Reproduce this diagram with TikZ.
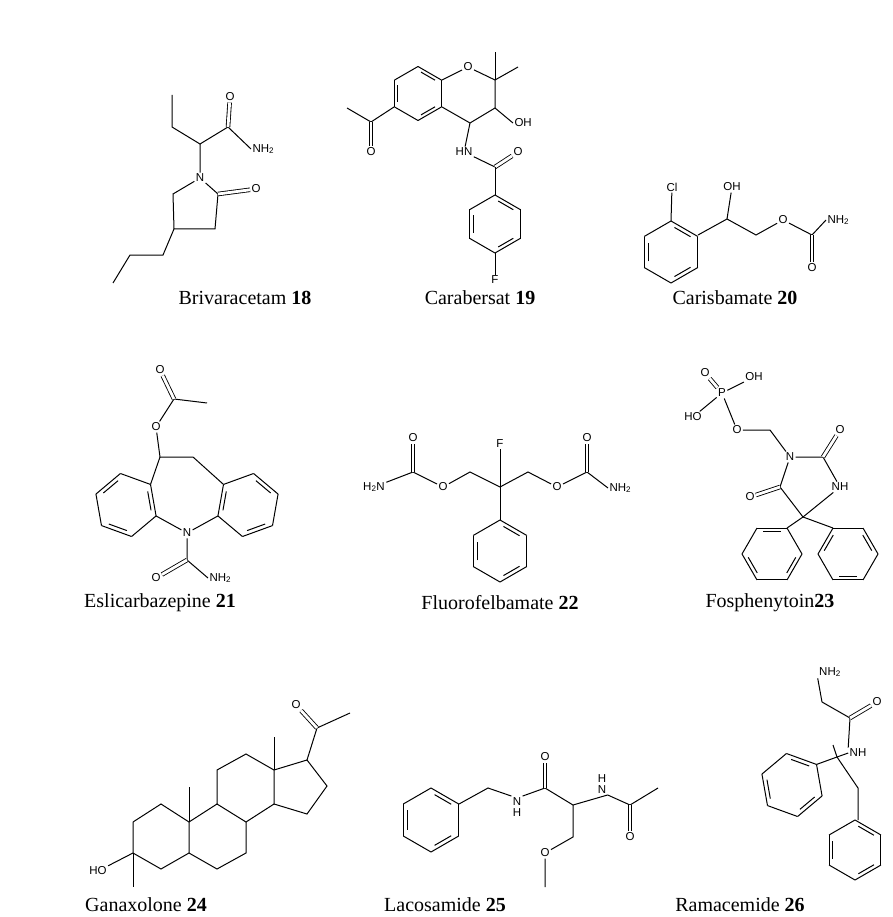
\documentclass[tikz,border=0pt]{standalone}
\usepackage{fontspec}
\setmainfont{Liberation Serif}
\setsansfont{Liberation Sans}
\usetikzlibrary{calc}
\newcommand\benz[4]{% cx cy r start
  \foreach \k in {0,...,5}{\draw ([shift={(#1,#2)}]#4+60*\k:#3) -- ([shift={(#1,#2)}]#4+60*\k+60:#3);}
  \foreach \k in {0,2,4}{\draw ([shift={(#1,#2)}]#4+60*\k+8:0.8*#3) -- ([shift={(#1,#2)}]#4+60*\k+52:0.8*#3);}}
\begin{document}
\begin{tikzpicture}[x=1pt,y=-1pt,line width=1pt,
  atom/.style={font=\sffamily\fontsize{11.5}{13}\selectfont,inner sep=1pt},
  captxt/.style={font=\fontsize{20}{23}\selectfont,inner sep=0pt},
  dbl/.style={double,double distance=2.8pt,line width=0.85pt}]
\useasboundingbox (0,0) rectangle (892,917);
% ---------- Brivaracetam
\coordinate (b1) at (172,95); \coordinate (b2) at (172,127); \coordinate (b3) at (200,144);
\coordinate (b4) at (228,127); \node[atom] (bo1) at (230,97) {O}; \node[atom,anchor=west] (bn2) at (251,149) {NH\textsubscript{2}};
\node[atom] (bn) at (200,178) {N}; \coordinate (b5) at (218,194); \node[atom] (bo2) at (256,189) {O};
\coordinate (b6) at (215,229); \coordinate (b7) at (174,229); \coordinate (b8) at (173,194);
\coordinate (b9) at (163,255); \coordinate (b10) at (130,255); \coordinate (b11) at (113,283);
\draw (b1)--(b2)--(b3)--(b4)--(bn2.west); \draw[dbl] (b4)--(bo1);
\draw (b3)--(bn)--(b5)--(b6)--(b7)--(b8)--(bn); \draw[dbl] (b5)--(bo2);
\draw (b7)--(b9)--(b10)--(b11);
\node[captxt] (c18) at (245,298) {Brivaracetam \textbf{18}};
% ---------- Carabersat
\benz{418}{93.5}{27}{30}
\node[atom] (co1) at (468,67) {O}; \coordinate (cr3) at (442,80); \coordinate (cr4) at (442,107);
\coordinate (c2) at (495,80); \coordinate (cm1) at (495,52); \coordinate (cm2) at (518,67);
\coordinate (c3) at (495,108); \node[atom,anchor=west] (coh) at (513,123) {OH};
\coordinate (c4) at (470,123); \node[atom] (chn) at (464,152) {HN};
\coordinate (c5) at (495,167); \node[atom] (co2) at (518,152) {O};
\coordinate (cr1) at (394,107); \coordinate (c6) at (371,122); \coordinate (cme) at (347,108);
\node[atom] (co3) at (371,152) {O};
\draw (cr3)--(co1)--(c2)--(c3)--(c4)--(cr4); \draw (c2)--(cm1); \draw (c2)--(cm2);
\draw (c3)--(coh.west); \draw (c4)--(chn); \draw (chn)--(c5); \draw[dbl] (c5)--(co2);
\draw (cr1)--(c6)--(cme); \draw[dbl] (c6)--(co3);
\benz{495}{224}{29}{30}
\coordinate (cr2t) at (495,195); \node[atom] (cf) at (495,280) {F};
\draw (c5)--(cr2t); \draw (495,253)--(cf);
\node[captxt] (c19) at (480,298) {Carabersat \textbf{19}};
% ---------- Carisbamate
\benz{671}{252}{31}{30}
\node[atom] (dcl) at (672,187) {Cl}; \coordinate (dr0) at (671,221); \coordinate (dr1) at (698,235);
\coordinate (d1) at (727,219); \node[atom] (doh) at (732,187) {OH}; \coordinate (d2) at (756,235);
\node[atom] (do1) at (783,220) {O}; \coordinate (d3) at (812,235); \node[atom] (do2) at (812,268) {O};
\node[atom,anchor=west] (dn) at (826,220) {NH\textsubscript{2}};
\draw (dr0)--(dcl); \draw (dr1)--(d1)--(d2)--(do1)--(d3)--(dn.west); \draw (d1)--(doh); \draw[dbl] (d3)--(do2);
\node[captxt] (c20) at (735,298) {Carisbamate \textbf{20}};
% ---------- Eslicarbazepine
\benz{126}{505}{32}{200}
\benz{248}{505}{32}{40}
\node[atom] (en) at (187,533) {N}; \coordinate (el4) at ($(126,505)+(320:32)$);
\coordinate (er1) at ($(248,505)+(220:32)$); \coordinate (er6) at ($(248,505)+(160:32)$);
\coordinate (el5) at ($(126,505)+(20:32)$);
\coordinate (e1) at (160,457); \coordinate (e2) at (193,457);
\node[atom] (eo1) at (156,427) {O}; \coordinate (e3) at (174,399); \node[atom] (eo2) at (160,370) {O}; \coordinate (em) at (207,403);
\coordinate (e4) at (187,560); \node[atom] (eo3) at (156,578) {O}; \node[atom,anchor=west] (en2) at (208,578) {NH\textsubscript{2}};
\draw (el4)--(e1)--(e2)--(er1); \draw (el5)--(en)--(er6); \draw (e1)--(eo1)--(e3)--(em); \draw[dbl] (e3)--(eo2);
\draw (en)--(e4)--(en2.west); \draw[dbl] (e4)--(eo3);
\node[captxt] (c21) at (160,603) {Eslicarbazepine \textbf{21}};
% ---------- Fluorofelbamate
\node[atom] (fn1) at (374,487) {H\textsubscript{2}N}; \coordinate (f1) at (413,472); \node[atom] (fo1) at (413,438) {O};
\node[atom] (fo2) at (443,487) {O}; \coordinate (f2) at (470,472); \coordinate (f3) at (500,487); \node[atom] (ff) at (500,444) {F};
\coordinate (f4) at (528,472); \node[atom] (fo3) at (557,487) {O}; \coordinate (f5) at (587,472); \node[atom] (fo4) at (587,438) {O};
\node[atom,anchor=west] (fn2) at (608,488) {NH\textsubscript{2}};
\draw (fn1)--(f1)--(fo2)--(f2)--(f3)--(f4)--(fo3)--(f5)--(fn2.west); \draw[dbl] (f1)--(fo1); \draw[dbl] (f5)--(fo4);
\draw (f3)--(ff); \coordinate (fr) at (500,520); \draw (f3)--(fr);
\benz{500}{551}{31}{270}
\node[captxt] (c22) at (500,603) {Fluorofelbamate \textbf{22}};
% ---------- Fosphenytoin
\node[atom] (gp) at (722,393) {P}; \node[atom] (go1) at (705,373) {O}; \node[atom] (goh) at (754,377) {OH};
\node[atom] (gho) at (693,417) {HO}; \node[atom] (go2) at (737,430) {O}; \coordinate (g1) at (770,430);
\node[atom] (gn) at (790,457) {N}; \coordinate (g2) at (823,457); \node[atom] (go3) at (840,430) {O};
\node[atom] (gnh) at (840,487) {NH}; \coordinate (g5) at (803,517); \coordinate (g4) at (780,487); \node[atom] (go4) at (750,497) {O};
\draw[dbl] (gp)--(go1); \draw (gp)--(goh); \draw (gp)--(gho); \draw (gp)--(go2)--(g1)--(gn)--(g2)--(gnh)--(g5)--(g4)--(gn);
\draw[dbl] (g2)--(go3); \draw[dbl] (g4)--(go4);
\benz{772}{554}{30}{0}
\benz{848}{554}{30}{60}
\draw (g5)--($(772,554)+(300:30)$); \draw (g5)--($(848,554)+(240:30)$);
\node[captxt] (c23) at (770,603) {Fosphenytoin\textbf{23}};
% ---------- Ganaxolone
\coordinate (h1) at (133,822); \coordinate (h2) at (161,804); \coordinate (h10) at (189,822); \coordinate (h5) at (189,853);
\coordinate (h4) at (161,869); \coordinate (h3) at (133,853); \node[atom] (hoh) at (98,871) {HO}; \coordinate (hm3) at (133,887);
\coordinate (h9) at (217,804); \coordinate (h8) at (246,822); \coordinate (h7) at (246,853); \coordinate (h6) at (217,869);
\coordinate (hm10) at (189,787); \coordinate (h11) at (217,770); \coordinate (h12) at (246,754); \coordinate (h13) at (274,770);
\coordinate (h14) at (274,804); \coordinate (hm13) at (274,737); \coordinate (h17) at (307,760); \coordinate (h16) at (327,786);
\coordinate (h15) at (307,814); \coordinate (h20) at (317,728); \node[atom] (ho) at (296,705) {O}; \coordinate (h21) at (350,713);
\draw (h1)--(h2)--(h10)--(h5)--(h4)--(h3)--(h1); \draw (h3)--(hoh); \draw (h3)--(hm3);
\draw (h10)--(h9)--(h8)--(h7)--(h6)--(h5); \draw (h10)--(hm10);
\draw (h9)--(h11)--(h12)--(h13)--(h14)--(h8); \draw (h13)--(hm13);
\draw (h13)--(h17)--(h16)--(h15)--(h14); \draw (h17)--(h20)--(h21); \draw[dbl] (h20)--(ho);
\node[captxt] (c24) at (146,905) {Ganaxolone \textbf{24}};
% ---------- Lacosamide
\benz{431}{820}{32}{270}
\coordinate (l0) at (459,804); \coordinate (l1) at (488,788); \node[atom,align=center] (ln1) at (517,807) {N\\[-2pt]H};
\coordinate (l2) at (545,788); \node[atom] (lo1) at (545,757) {O}; \coordinate (l3) at (573,805);
\node[atom,align=center] (ln2) at (602,784) {H\\[-2pt]N}; \coordinate (l4) at (630,805); \node[atom] (lo2) at (630,837) {O}; \coordinate (l5) at (658,788);
\coordinate (l6) at (573,837); \node[atom] (lo3) at (545,853) {O}; \coordinate (l7) at (545,887);
\draw (l0)--(l1)--(ln1.north west); \draw (ln1.north east)--(l2)--(l3)--(ln2.south east); \draw (ln2.south east)--(l4)--(l5);
\draw[dbl] (l2)--(lo1); \draw[dbl] (l4)--(lo2); \draw (l3)--(l6)--(lo3)--(l7);
\node[captxt] (c25) at (445,905) {Lacosamide \textbf{25}};
% ---------- Ramacemide
\node[atom] (rn2) at (830,672) {NH\textsubscript{2}}; \coordinate (r1) at (822,702); \coordinate (r2) at (850,718);
\node[atom] (ro) at (877,702) {O}; \node[atom] (rnh) at (858,753) {NH}; \coordinate (r3) at (837,757); \coordinate (rm) at (833,745);
\coordinate (r4) at (858,788);
\draw (rn2.south west)--(r1)--(r2)--(rnh.north west); \draw[dbl] (r2)--(ro); \draw (rnh.west)--(r3);
\draw (rm)--(r3)--(r4)--(858,820); \draw (r3)--($(792,785)+(320:32)$);
\benz{792}{785}{32}{20}
\benz{855}{850}{30}{270}
\node[captxt] (c26) at (740,905) {Ramacemide \textbf{26}};
\end{tikzpicture}
\end{document}
